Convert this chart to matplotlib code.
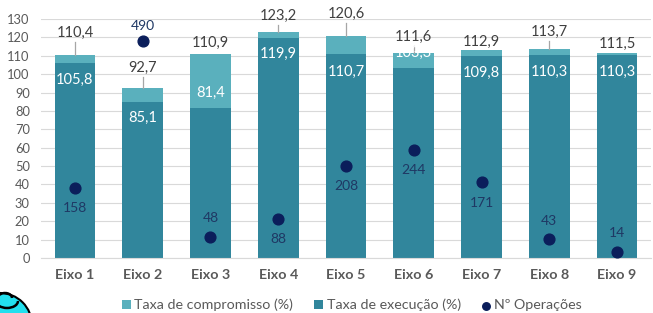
import matplotlib
matplotlib.use("Agg")
import matplotlib.pyplot as plt
from matplotlib.patches import Circle, Arc

categories = ["Eixo 1", "Eixo 2", "Eixo 3", "Eixo 4", "Eixo 5", "Eixo 6", "Eixo 7", "Eixo 8", "Eixo 9"]
taxa_compromisso = [110.4, 92.7, 110.9, 123.2, 120.6, 111.6, 112.9, 113.7, 111.5]
taxa_execucao = [105.8, 85.1, 81.4, 119.9, 110.7, 103.3, 109.8, 110.3, 110.3]
n_operacoes = [158, 490, 48, 88, 208, 244, 171, 43, 14]

# label placement (data units of primary axis)
comp_label_y = [122.4, 103.4, 117.0, 131.7, 132.7, 120.0, 117.5, 123.0, 116.4]
comp_leader = [True, True, False, True, True, True, False, True, False]
exec_label_y = [96.8, 76.0, 90.0, 111.0, 101.0, 111.5, 100.6, 101.0, 101.0]
ops_label_dy = [-11, 8, 10, -11, -11, -11, -11, 10, 10]

light = "#5AB0BD"
dark = "#31869C"
navy = "#0B1E5B"
grey_txt = "#404040"

plt.rcParams['font.family'] = ['Lato', 'DejaVu Sans']

fig = plt.figure(figsize=(6.53, 3.13), dpi=100)
ax = fig.add_axes([41/653, 1 - 258/313, 610/653, 239/313])
x = list(range(len(categories)))
w = 0.6

ax.bar(x, taxa_compromisso, width=w, color=light, zorder=2, label="Taxa de compromisso (%)")
ax.bar(x, taxa_execucao, width=w, color=dark, zorder=3, label="Taxa de execução (%)")

ax.set_ylim(0, 130)
ax.set_xlim(-0.5, len(categories) - 0.5)
ax.set_yticks(range(0, 131, 10))
ax.tick_params(axis='y', length=0, labelsize=9.3, labelcolor="#595959", pad=8)
ax.tick_params(axis='x', length=0, labelsize=10.3, labelcolor="#595959", pad=8)
ax.set_xticks(x)
ax.set_xticklabels(categories, fontweight='bold')
ax.grid(axis='y', color="#D9D9D9", linewidth=0.8, zorder=0)
for s in ["top", "right", "left"]:
    ax.spines[s].set_visible(False)
ax.spines["bottom"].set_color("#D9D9D9")
ax.spines["bottom"].set_zorder(4)

for i in x:
    ax.text(i, comp_label_y[i], f"{taxa_compromisso[i]:.1f}".replace(".", ","),
            ha="center", va="center", fontsize=10.5, color=grey_txt, zorder=6)
    if comp_leader[i]:
        ax.plot([i, i], [comp_label_y[i] - 4.8, taxa_compromisso[i]], color="#A6A6A6",
                linewidth=0.9, zorder=5)
    ax.text(i, exec_label_y[i], f"{taxa_execucao[i]:.1f}".replace(".", ","),
            ha="center", va="center", fontsize=10.5, color="white", zorder=6)

ax2 = ax.twinx()
ops_max = 540
ax2.set_ylim(0, ops_max)
ax2.axis("off")
ax2.scatter(x, n_operacoes, s=60, color=navy, zorder=7, label="Nº Operações")
for i in x:
    ax2.text(i, n_operacoes[i] + ops_label_dy[i] * ops_max / 130, str(n_operacoes[i]),
             ha="center", va="center", fontsize=10, color="#1F3864", zorder=8)

h1, l1 = ax.get_legend_handles_labels()
h2, l2 = ax2.get_legend_handles_labels()
fig.legend(h1 + h2, l1 + l2, loc="center", bbox_to_anchor=(352/653, 1 - 305/313), ncol=3,
           frameon=False, fontsize=10.3, labelcolor="#595959", handlelength=0.6,
           handleheight=0.6, handletextpad=0.25, columnspacing=1.5, markerscale=0.7)

# decorative corner badge (display pixel coords, origin bottom-left)
c = Circle((0, -12), 32, transform=None, facecolor="#22E0EE", edgecolor="black", linewidth=1.5,
           clip_on=False, zorder=10)
fig.patches.append(c)
a1 = Arc((7, 12), 22, 14, theta1=180, theta2=360, transform=None, color="black",
         linewidth=1.8, zorder=11)
a2 = Arc((5, 15), 14, 10, theta1=0, theta2=150, transform=None, color="black",
         linewidth=1.8, zorder=11)
fig.patches.append(a1)
fig.patches.append(a2)

fig.savefig("out.png", dpi=100)
